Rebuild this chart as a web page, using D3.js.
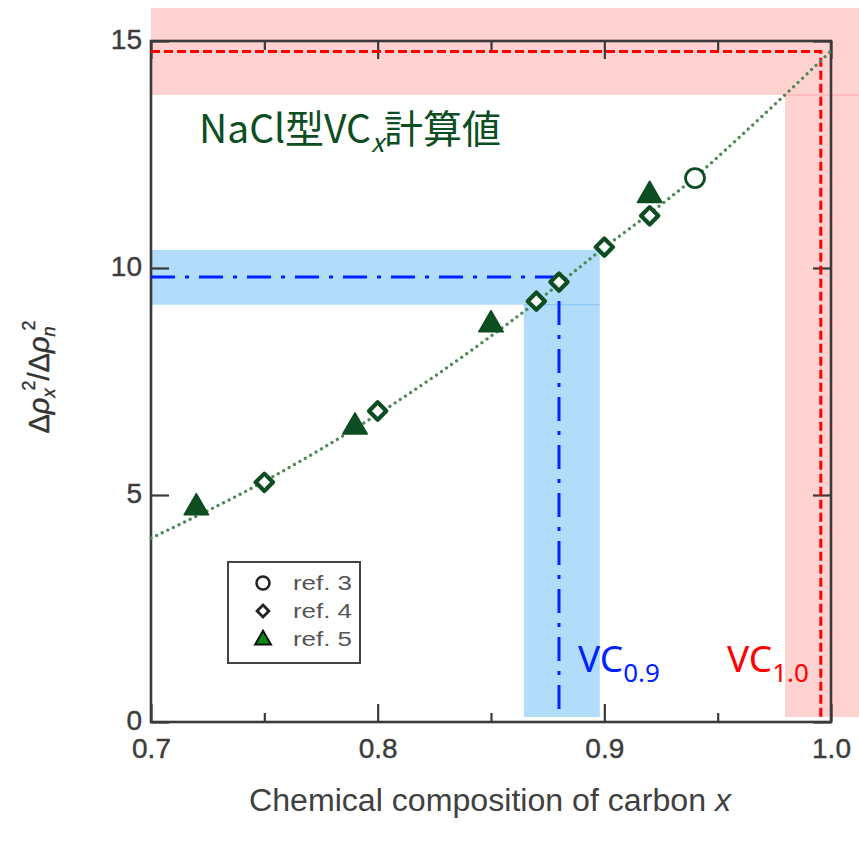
<!DOCTYPE html>
<html><head><meta charset="utf-8">
<script src="https://cdn.jsdelivr.net/npm/d3@7"></script>
<style>body{margin:0;background:#fff}</style>
</head><body>
<svg id="chart" width="859" height="844"></svg>
<script>
// ---- data ----
const ref3X = [0.94];
const ref3Y = [11.98];
const ref4X = [0.75, 0.80, 0.87, 0.88, 0.90, 0.92];
const ref4Y = [5.28, 6.85, 9.27, 9.69, 10.46, 11.15];
const ref5X = [0.72, 0.79, 0.85, 0.92];
const ref5Y = [4.72, 6.50, 8.75, 11.60];
const curveX = [0.70, 0.75, 0.80, 0.85, 0.87, 0.88, 0.90, 0.92, 0.94, 0.96, 0.98, 1.00];
const curveY = [4.05, 5.30, 6.78, 8.50, 9.25, 9.65, 10.45, 11.20, 12.00, 12.90, 13.83, 14.78];
const xMajorTicks = [0.7, 0.8, 0.9, 1.0];
const xMinorTicks = [0.75, 0.85, 0.95];
const yMajorTicks = [0, 5, 10, 15];
const xTickLabels = ["0.7", "0.8", "0.9", "1.0"];
const legendLabels = ["ref. 3", "ref. 4", "ref. 5"];
// annotation: VC0.9 (x, y) and VC1.0 (x, y)
const vc09 = [0.88, 9.8];
const vc10 = [0.9955, 14.77];
// highlight bands [x0, x1, y0, y1]
const blueBands = [[0.70, 0.898, 9.19, 10.4], [0.8645, 0.898, 0.11, 9.19]];
const pinkBands = [[0.70, 1.013, 13.81, 15.73], [0.9797, 1.013, 0.11, 13.81]];
const title = "NaCl型VC";
const titleTail = "計算値";

// ---- layout ----
const svg = d3.select("#chart");
const x = d3.scaleLinear().domain([0.7, 1.0]).range([151, 831]);
const y = d3.scaleLinear().domain([0, 15]).range([722, 41]);
const green = "#0c4d22";
const axisColor = "#3a3a3a";

// bands
const band = (sel, data, fill) => sel.selectAll(null).data(data).enter().append("rect")
  .attr("x", d => x(d[0])).attr("width", d => x(d[1]) - x(d[0]))
  .attr("y", d => y(d[3])).attr("height", d => y(d[2]) - y(d[3]))
  .attr("fill", fill);
band(svg.append("g"), pinkBands, "#ffd2d2");
band(svg.append("g"), blueBands, "#b1ddfb");
// faint seam lines
svg.append("line").attr("x1", x(pinkBands[1][0])).attr("x2", x(pinkBands[1][1]))
  .attr("y1", y(pinkBands[1][3])).attr("y2", y(pinkBands[1][3]))
  .attr("stroke", "#ffa8a8").attr("stroke-width", 1);
svg.append("line").attr("x1", x(blueBands[1][0])).attr("x2", x(blueBands[1][1]))
  .attr("y1", y(blueBands[1][3])).attr("y2", y(blueBands[1][3]))
  .attr("stroke", "#7fc2f2").attr("stroke-width", 1);

// axes
const gx = svg.append("g").attr("transform", `translate(0,${y(0)})`)
  .call(d3.axisBottom(x).tickValues(xMajorTicks).tickSize(-18).tickPadding(16)
    .tickFormat((d, i) => xTickLabels[i]));
const gxm = svg.append("g").attr("transform", `translate(0,${y(0)})`)
  .call(d3.axisBottom(x).tickValues(xMinorTicks).tickSize(-9).tickFormat(""));
const gxt = svg.append("g").attr("transform", `translate(0,${y(15)})`)
  .call(d3.axisTop(x).tickValues(xMajorTicks).tickSize(-18).tickFormat(""));
const gxtm = svg.append("g").attr("transform", `translate(0,${y(15)})`)
  .call(d3.axisTop(x).tickValues(xMinorTicks).tickSize(-9).tickFormat(""));
const gy = svg.append("g").attr("transform", `translate(${x(0.7)},0)`)
  .call(d3.axisLeft(y).tickValues(yMajorTicks).tickSize(-18).tickPadding(9));
const gyr = svg.append("g").attr("transform", `translate(${x(1.0)},0)`)
  .call(d3.axisRight(y).tickValues(yMajorTicks).tickSize(-18).tickFormat(""));
[gx, gxm, gxt, gxtm, gy, gyr].forEach(g => {
  g.select(".domain").remove();
  g.selectAll(".tick line").attr("stroke", axisColor).attr("stroke-width", 2.2);
  g.selectAll(".tick text").attr("fill", "#3c3c3c").attr("stroke", "#3c3c3c").attr("stroke-width", 0.4)
    .attr("font-family", "Liberation Sans, Arial, sans-serif").attr("font-size", 28);
});
gy.selectAll(".tick text").attr("dy", "0.28em");
svg.append("rect").attr("x", x(0.7)).attr("y", y(15))
  .attr("width", x(1.0) - x(0.7)).attr("height", y(0) - y(15))
  .attr("fill", "none").attr("stroke", axisColor).attr("stroke-width", 2.6);

// reference lines
svg.append("path")
  .attr("d", d3.line()([[x(0.7), y(vc10[1])], [x(vc10[0]), y(vc10[1])], [x(vc10[0]), y(0.11)]]))
  .attr("fill", "none").attr("stroke", "#ff0000").attr("stroke-width", 3).attr("stroke-dasharray", "9,4");
svg.append("path")
  .attr("d", d3.line()([[x(0.7), y(vc09[1])], [x(vc09[0]), y(vc09[1])], [x(vc09[0]), y(0.11)]]))
  .attr("fill", "none").attr("stroke", "#0022ff").attr("stroke-width", 3).attr("stroke-dasharray", "24,10,4,10");

// dotted fit curve
svg.append("path")
  .attr("d", d3.line().x(d => x(d[0])).y(d => y(d[1])).curve(d3.curveMonotoneX)(curveX.map((v, i) => [v, curveY[i]])))
  .attr("fill", "none").attr("stroke", "#4f8a55").attr("stroke-width", 3.3)
  .attr("stroke-linecap", "round").attr("stroke-dasharray", "0.01,6.2");

// markers
const sym = (type, size) => d3.symbol().type(type).size(size)();
svg.append("g").selectAll("path").data(ref5X.map((v, i) => [v, ref5Y[i]])).enter().append("path")
  .attr("d", sym(d3.symbolTriangle, 260))
  .attr("transform", d => `translate(${x(d[0])},${y(d[1])})`)
  .attr("fill", green).attr("stroke", green).attr("stroke-width", 1.5).attr("stroke-linejoin", "round");
svg.append("g").selectAll("path").data(ref4X.map((v, i) => [v, ref4Y[i]])).enter().append("path")
  .attr("d", sym(d3.symbolSquare, 150))
  .attr("transform", d => `translate(${x(d[0])},${y(d[1])}) rotate(45)`)
  .attr("fill", "#fff").attr("stroke", green).attr("stroke-width", 4.2).attr("stroke-linejoin", "round");
svg.append("g").selectAll("circle").data(ref3X.map((v, i) => [v, ref3Y[i]])).enter().append("circle")
  .attr("cx", d => x(d[0])).attr("cy", d => y(d[1])).attr("r", 9.5)
  .attr("fill", "#fff").attr("stroke", green).attr("stroke-width", 2.8);

// legend
const lg = svg.append("g");
lg.append("rect").attr("x", 228).attr("y", 562).attr("width", 132).attr("height", 101)
  .attr("fill", "#fff").attr("stroke", "#444").attr("stroke-width", 2);
const ly = [583, 611, 639];
lg.append("circle").attr("cx", 263).attr("cy", ly[0]).attr("r", 6.5)
  .attr("fill", "#fff").attr("stroke", "#222").attr("stroke-width", 2.5);
lg.append("path").attr("d", sym(d3.symbolSquare, 70))
  .attr("transform", `translate(263,${ly[1]}) rotate(45)`)
  .attr("fill", "#fff").attr("stroke", "#222").attr("stroke-width", 2.8);
lg.append("path").attr("d", sym(d3.symbolTriangle, 110))
  .attr("transform", `translate(263,${ly[2] + 1})`)
  .attr("fill", "#0a8a14").attr("stroke", "#111").attr("stroke-width", 2);
lg.selectAll("text").data(legendLabels).enter().append("text")
  .attr("x", 293).attr("y", (d, i) => ly[i] + 7).text(d => d)
  .attr("fill", "#555").attr("font-family", "Liberation Sans, Arial, sans-serif")
  .attr("font-size", 20).attr("textLength", 59).attr("lengthAdjust", "spacingAndGlyphs");

// axis titles
svg.append("text").attr("x", 490).attr("y", 811)
  .attr("text-anchor", "middle").attr("fill", "#404040")
  .attr("font-family", "Liberation Sans, Arial, sans-serif").attr("font-size", 31)
  .attr("textLength", 482).attr("lengthAdjust", "spacingAndGlyphs")
  .html('Chemical composition of carbon <tspan font-style="italic">x</tspan>');
const yl = svg.append("text").attr("transform", "translate(49,377) rotate(-90)")
  .attr("text-anchor", "middle").attr("fill", "#333").attr("stroke", "#333").attr("stroke-width", 0.4)
  .attr("font-family", "Liberation Sans, Arial, sans-serif").attr("font-size", 29);
yl.append("tspan").text("Δ");
yl.append("tspan").attr("font-style", "italic").text("ρ");
yl.append("tspan").attr("font-style", "italic").attr("font-size", 18).attr("dy", 6).text("x");
yl.append("tspan").attr("font-size", 18).attr("dy", -20).attr("dx", -2).text("2");
yl.append("tspan").attr("dy", 14).text("/Δ");
yl.append("tspan").attr("font-style", "italic").text("ρ");
yl.append("tspan").attr("font-style", "italic").attr("font-size", 18).attr("dy", 6).text("n");
yl.append("tspan").attr("font-size", 18).attr("dy", -20).attr("dx", -4).text("2");

// chart annotations
const t = svg.append("text").attr("x", 199).attr("y", 143).attr("fill", green)
  .attr("font-family", "Noto Sans CJK JP, Noto Sans, sans-serif").attr("font-size", 39);
t.append("tspan").text(title);
t.append("tspan").attr("font-style", "italic").attr("font-size", 26).attr("dy", 9).text("x");
t.append("tspan").attr("dy", -9).text(titleTail);

const vcLabel = (px, color, main, sub) => {
  const tx = svg.append("text").attr("x", px).attr("y", 672).attr("fill", color)
    .attr("font-family", "Noto Sans, sans-serif").attr("font-size", 37);
  tx.append("tspan").text(main);
  tx.append("tspan").attr("font-size", 26).attr("dy", 10).text(sub);
};
vcLabel(x(vc09[0]) + 19, "#0022ff", "VC", "0.9");
vcLabel(727, "#ff0000", "VC", "1.0");
</script>
</body></html>
